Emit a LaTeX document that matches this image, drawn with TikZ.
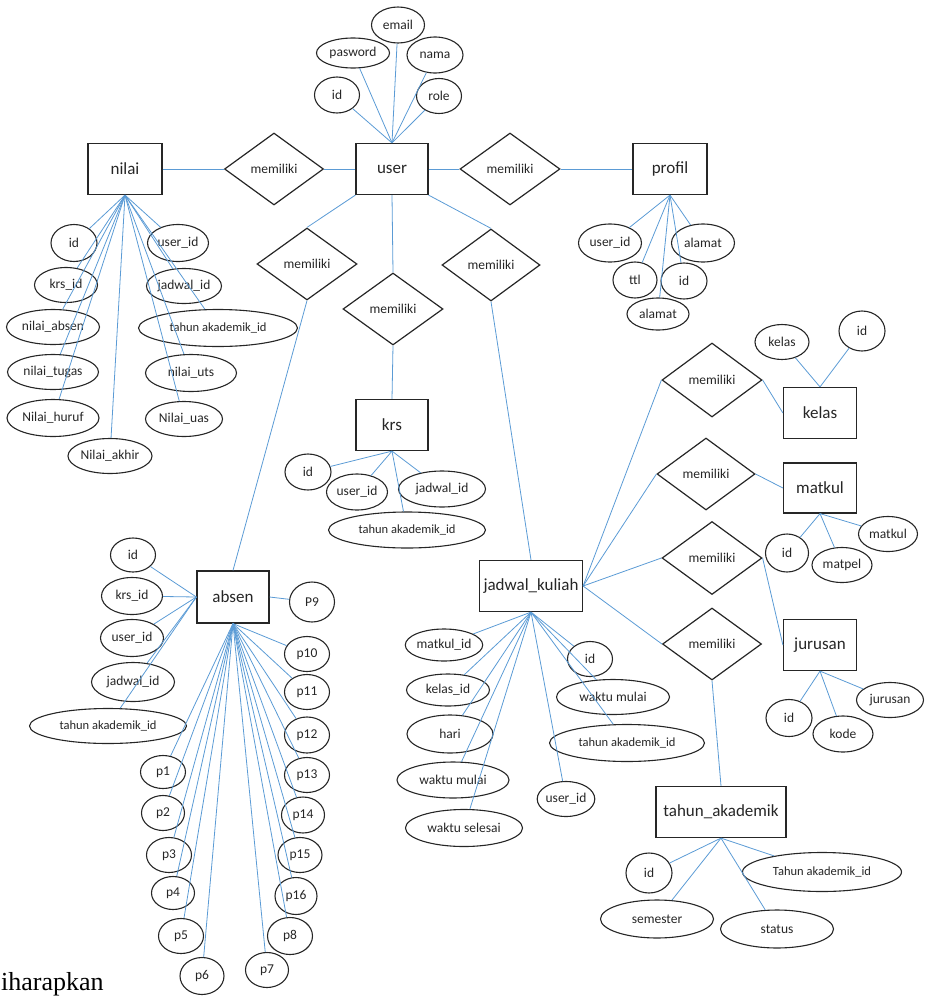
\documentclass[tikz,border=0pt]{standalone}
\usepackage{fontspec}
\setmainfont{Carlito}
\newfontfamily\docserif{Liberation Serif}
\usetikzlibrary{shapes.geometric}
\definecolor{linkblue}{HTML}{5B9BD5}
\definecolor{inkgray}{HTML}{262626}
\tikzset{
  ent/.style={draw=inkgray, line width=1.2pt, rectangle, inner sep=0pt,
    font=\fontsize{17}{17}\selectfont, text=inkgray},
  att/.style={draw=inkgray, line width=1.1pt, ellipse, inner sep=0pt,
    font=\fontsize{13.5}{13.5}\selectfont, text=inkgray},
  longatt/.style={font=\fontsize{12.5}{12.5}\selectfont},
  rel/.style={draw=inkgray, line width=1.2pt, diamond, inner sep=0pt,
    font=\fontsize{13.5}{13.5}\selectfont, text=inkgray},
  conn/.style={draw=linkblue, line width=0.8pt},
}
\newcommand\entn[5]{\node[ent, minimum width=#4pt, minimum height=#5pt] (#1) at (#2) {#3};}
\newcommand\atn[5]{\node[att, minimum width=#4pt, minimum height=#5pt] (#1) at (#2) {#3};}
\newcommand\atl[5]{\node[att, longatt, minimum width=#4pt, minimum height=#5pt] (#1) at (#2) {#3};}
\newcommand\reln[4]{\node[rel, minimum width=#3pt, minimum height=#4pt] (#1) at (#2) {memiliki};}
\begin{document}
\begin{tikzpicture}[x=1pt,y=-1pt]
\useasboundingbox (0,0) rectangle (931,996);
% entities
\entn{user}{392,169}{user}{72}{51}
\entn{nilai}{125,169}{nilai}{74}{51}
\entn{profil}{670,169}{profil}{74}{51}
\entn{krs}{392,425}{krs}{72}{51}
\entn{absen}{233,597}{absen}{72}{52}
\entn{jadwal}{531,586}{jadwal\_kuliah}{103}{51}
\entn{kelas}{820,413}{kelas}{73}{51}
\entn{matkul}{820,488}{matkul}{73}{50}
\entn{jurusan}{820,645}{jurusan}{73}{51}
\entn{tahun}{721,812}{tahun\_akademik}{130}{51}
% relations
\reln{r1}{274,169}{99}{72}
\reln{r2}{510,169}{100}{72}
\reln{r3}{307,264}{100}{72}
\reln{r4}{393,309}{100}{72}
\reln{r5}{491,265}{98}{72}
\reln{r6}{712,380}{100}{74}
\reln{r7}{706,474}{98}{72}
\reln{r8}{712,558}{100}{73}
\reln{r9}{712,644}{99}{72}
% user attributes
\atn{uid}{337,95}{id}{45}{36}
\atn{upw}{353,53}{pasword}{73}{30}
\atn{uem}{398,25}{email}{53}{36}
\atn{unm}{435,55}{nama}{56}{36}
\atn{url}{439,96}{role}{45}{35}
% profil attributes
\atn{puid}{610,243}{user\_id}{63}{38}
\atn{pal1}{703,243}{alamat}{63}{38}
\atn{pttl}{635,280}{ttl}{44}{36}
\atn{pid}{684,281}{id}{46}{36}
\atn{pal2}{658,314}{alamat}{62}{32}
% nilai attributes
\atn{nid}{74,243}{id}{46}{37}
\atn{nuid}{178,243}{user\_id}{61}{37}
\atn{nkrs}{66,285}{krs\_id}{63}{35}
\atn{njad}{184,286}{jadwal\_id}{75}{35}
\atn{nabs}{53,327}{nilai\_absen}{93}{35}
\atl{nta}{218,328}{tahun akademik\_id}{159}{37}
\atn{ntug}{53,372}{nilai\_tugas}{91}{35}
\atn{nuts}{191,373}{nilai\_uts}{91}{37}
\atn{nhur}{53,418}{Nilai\_huruf}{92}{37}
\atn{nuas}{184,419}{Nilai\_uas}{77}{35}
\atn{nakh}{110,456}{Nilai\_akhir}{84}{35}
% krs attributes
\atn{kid}{308,472}{id}{46}{36}
\atn{kuid}{357,492}{user\_id}{61}{36}
\atn{kjad}{442,489}{jadwal\_id}{87}{36}
\atl{kta}{407,530}{tahun akademik\_id}{157}{36}
% absen attributes
\atn{aid}{133,555}{id}{45}{34}
\atn{akrs}{132,596}{krs\_id}{61}{37}
\atn{auid}{132,638}{user\_id}{63}{37}
\atn{ajad}{133,682}{jadwal\_id}{83}{39}
\atl{ata}{108,726}{tahun akademik\_id}{157}{35}
\atn{ap9}{312,602}{P9}{45}{40}
\atn{ap10}{307,654}{p10}{45}{35}
\atn{ap11}{307,692}{p11}{45}{35}
\atn{ap12}{307,735}{p12}{45}{36}
\atn{ap13}{307,775}{p13}{45}{35}
\atn{ap14}{303,815}{p14}{43}{36}
\atn{ap15}{300,855}{p15}{44}{35}
\atn{ap16}{296,896}{p16}{42}{37}
\atn{ap8}{290,936}{p8}{45}{37}
\atn{ap7}{267,970}{p7}{43}{35}
\atn{ap6}{202,976}{p6}{44}{37}
\atn{ap5}{181,936}{p5}{45}{35}
\atn{ap4}{173,893}{p4}{43}{33}
\atn{ap3}{169,855}{p3}{45}{35}
\atn{ap2}{163,813}{p2}{43}{35}
\atn{ap1}{163,772}{p1}{45}{33}
% jadwal attributes
\atn{jmk}{444,645}{matkul\_id}{75}{32}
\atn{jkl}{448,690}{kelas\_id}{83}{32}
\atn{jhr}{450,734}{hari}{86}{38}
\atn{jwm}{453,780}{waktu mulai}{112}{36}
\atn{jws}{464,828}{waktu selesai}{117}{37}
\atn{jid}{590,659}{id}{45}{35}
\atn{jwm2}{613,697}{waktu mulai}{113}{35}
\atl{jta}{627,743}{tahun akademik\_id}{155}{37}
\atn{juid}{566,799}{user\_id}{55}{35}
% kelas attributes
\atn{kkel}{782,342}{kelas}{54}{35}
\atn{kkid}{862,331}{id}{46}{40}
% matkul attributes
\atn{mid}{787,553}{id}{43}{38}
\atn{mpel}{842,565}{matpel}{60}{35}
\atn{mmk}{888,534}{matkul}{59}{35}
% jurusan attributes
\atn{jrid}{789,718}{id}{46}{37}
\atn{jrkd}{843,734}{kode}{60}{36}
\atn{jrjr}{890,700}{jurusan}{67}{35}
% tahun attributes
\atn{tid}{649,873}{id}{46}{40}
\atl{tta}{822,872}{Tahun akademik\_id}{159}{39}
\atn{tsem}{657,919}{semester}{113}{38}
\atn{tsta}{777,929}{status}{113}{38}
% connectors: relationships
\draw[conn] (nilai.east) -- (r1.west);
\draw[conn] (r1.east) -- (user.west);
\draw[conn] (user.east) -- (r2.west);
\draw[conn] (r2.east) -- (profil.west);
\draw[conn] (user.south west) -- (r3.north);
\draw[conn] (r3.south) -- (absen.north);
\draw[conn] (user.south) -- (r4.north);
\draw[conn] (r4.south) -- (krs.north);
\draw[conn] (user.south east) -- (r5.north);
\draw[conn] (r5.south) -- (jadwal.north);
\draw[conn] (jadwal.east) -- (r6.west);
\draw[conn] (r6.east) -- (kelas.west);
\draw[conn] (jadwal.east) -- (r7.west);
\draw[conn] (r7.east) -- (matkul.west);
\draw[conn] (jadwal.east) -- (r8.west);
\draw[conn] (r8.east) -- (jurusan.west);
\draw[conn] (jadwal.east) -- (r9.west);
\draw[conn] (r9.south) -- (tahun.north);
% connectors: attributes
\foreach \a in {uid,upw,uem,unm,url} \draw[conn] (user.north) -- (\a);
\foreach \a in {puid,pal1,pttl,pid,pal2} \draw[conn] (profil.south) -- (\a);
\foreach \a in {nid,nuid,nkrs,njad,nabs,nta,ntug,nuts,nhur,nuas,nakh} \draw[conn] (nilai.south) -- (\a);
\foreach \a in {kid,kuid,kjad,kta} \draw[conn] (krs.south) -- (\a);
\foreach \a in {aid,akrs,auid,ajad,ata} \draw[conn] (absen.west) -- (\a);
\draw[conn] (absen.east) -- (ap9);
\foreach \a in {ap1,ap2,ap3,ap4,ap5,ap6,ap7,ap8,ap10,ap11,ap12,ap13,ap14,ap15,ap16} \draw[conn] (absen.south) -- (\a);
\foreach \a in {jmk,jkl,jhr,jwm,jws,jid,jwm2,jta,juid} \draw[conn] (jadwal.south) -- (\a);
\foreach \a in {kkel,kkid} \draw[conn] (kelas.north) -- (\a);
\foreach \a in {mid,mpel,mmk} \draw[conn] (matkul.south) -- (\a);
\foreach \a in {jrid,jrkd,jrjr} \draw[conn] (jurusan.south) -- (\a);
\foreach \a in {tid,tta,tsem,tsta} \draw[conn] (tahun.south) -- (\a);
% page text
\node[font=\docserif\fontsize{26}{26}\selectfont, anchor=base west, inner sep=0pt] (doc) at (1,990) {iharapkan};
\end{tikzpicture}
\end{document}
